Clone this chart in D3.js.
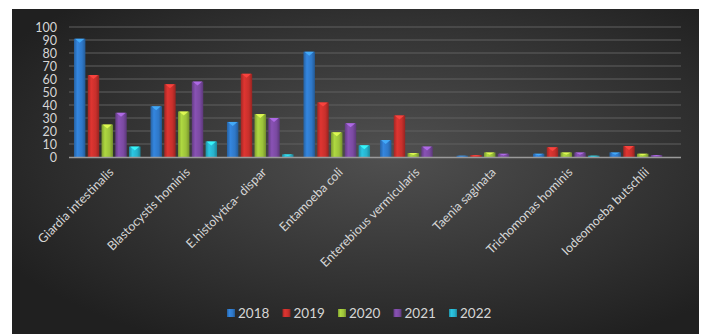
<!DOCTYPE html>
<html>
<head>
<meta charset="utf-8">
<script src="https://cdn.jsdelivr.net/npm/d3@7"></script>
<style>
  body { margin: 0; background: #fff; }
  svg { display: block; }
</style>
</head>
<body>
<div id="container"></div>
<script>
const categories = [
  "Giardia intestinalis", "Blastocystis hominis", "E.histolytica- dispar",
  "Entamoeba coli", "Enterebious vermicularis", "Taenia saginata",
  "Trichomonas hominis", "Iodeomoeba butschlii"
];
const years = ["2018", "2019", "2020", "2021", "2022"];
const values2018 = [91, 39, 27, 81, 13, 1, 2.5, 3.5];
const values2019 = [63, 56, 64, 42, 32, 1.5, 7.5, 8.5];
const values2020 = [25, 35, 33, 19, 3, 3.5, 3.5, 2.5];
const values2021 = [34, 58, 30, 26, 8, 2.5, 3.5, 1.5];
const values2022 = [8, 12, 2, 9, 0, 0, 1, 0];
const yTicks = [0, 10, 20, 30, 40, 50, 60, 70, 80, 90, 100];
const colors = ["#2f78c8", "#c8302c", "#9cc23a", "#7b4aa2", "#27b2cc"];

const seriesValues = [values2018, values2019, values2020, values2021, values2022];

const width = 703, height = 334;
const svg = d3.select("#container").append("svg")
  .attr("width", width)
  .attr("height", height);

const defs = svg.append("defs");

const bg = defs.append("radialGradient")
  .attr("id", "bg")
  .attr("cx", "55%").attr("cy", "45%").attr("r", "65%");
bg.append("stop").attr("offset", "0%").attr("stop-color", "#505050");
bg.append("stop").attr("offset", "100%").attr("stop-color", "#202020");

colors.forEach((c, i) => {
  const g = defs.append("linearGradient")
    .attr("id", "bar" + i)
    .attr("x1", "0%").attr("x2", "100%");
  g.append("stop").attr("offset", "0%").attr("stop-color", d3.color(c).darker(0.6));
  g.append("stop").attr("offset", "30%").attr("stop-color", d3.color(c).brighter(0.3));
  g.append("stop").attr("offset", "70%").attr("stop-color", c);
  g.append("stop").attr("offset", "100%").attr("stop-color", d3.color(c).darker(0.8));
});

// chart background
svg.append("rect")
  .attr("x", 12).attr("y", 9)
  .attr("width", 687).attr("height", 325)
  .attr("fill", "url(#bg)");

const margin = { left: 69, right: 681, top: 27, bottom: 157 };

const x = d3.scaleBand()
  .domain(categories)
  .range([margin.left, margin.right])
  .paddingInner(0.13)
  .paddingOuter(0.065);

const xInner = d3.scaleBand()
  .domain(years)
  .range([0, x.bandwidth()])
  .paddingInner(0.17);

const y = d3.scaleLinear()
  .domain([0, 100])
  .range([margin.bottom, margin.top]);

// gridlines
svg.append("g")
  .selectAll("line")
  .data(yTicks.slice(1))
  .join("line")
  .attr("x1", margin.left)
  .attr("x2", margin.right)
  .attr("y1", d => y(d))
  .attr("y2", d => y(d))
  .attr("stroke", "#606060")
  .attr("stroke-width", 1);

// y axis labels
const yAxis = svg.append("g")
  .attr("transform", `translate(${margin.left - 12},0)`)
  .call(d3.axisLeft(y).tickValues(yTicks).tickSize(0).tickPadding(0));
yAxis.select(".domain").remove();
yAxis.selectAll("text")
  .attr("fill", "#d6d6d6")
  .style("font-family", "Lato, 'Open Sans', sans-serif")
  .style("font-size", "12.5px");

// bars
const groups = svg.append("g")
  .selectAll("g")
  .data(categories)
  .join("g")
  .attr("transform", d => `translate(${x(d)},0)`);

years.forEach((yr, si) => {
  groups.each(function(cat, ci) {
    const v = seriesValues[si][ci];
    if (v <= 0) return;
    const g = d3.select(this);
    const bx = xInner(yr);
    const bw = xInner.bandwidth();
    g.append("rect")
      .attr("x", bx)
      .attr("y", y(v))
      .attr("width", bw)
      .attr("height", y(0) - y(v))
      .attr("fill", `url(#bar${si})`);
    const triH = Math.min(4, (y(0) - y(v)) * 0.5);
    g.append("path")
      .attr("d", `M${bx + 1},${y(v)} L${bx + bw - 1},${y(v)} L${bx + bw / 2},${y(v) + triH} Z`)
      .attr("fill", d3.color(colors[si]).brighter(1.1))
      .attr("opacity", 0.85);
  });
});

// baseline
svg.append("line")
  .attr("x1", margin.left)
  .attr("x2", margin.right)
  .attr("y1", y(0) + 0.5)
  .attr("y2", y(0) + 0.5)
  .attr("stroke", "#9a9a9a")
  .attr("stroke-width", 1.5);

// category labels
const xAxis = svg.append("g")
  .attr("transform", `translate(0,${y(0)})`)
  .call(d3.axisBottom(x).tickSize(0).tickPadding(0));
xAxis.select(".domain").remove();
xAxis.selectAll("text")
  .attr("fill", "#d6d6d6")
  .style("font-family", "Lato, 'Open Sans', sans-serif")
  .style("font-size", "12.5px")
  .attr("text-anchor", "end")
  .attr("dy", "0")
  .attr("transform", "translate(7,16) rotate(-45)");

// legend
const legend = svg.append("g")
  .attr("transform", "translate(227,313)");
const legendStep = 55.5;
years.forEach((yr, i) => {
  const lg = legend.append("g").attr("transform", `translate(${i * legendStep},0)`);
  lg.append("rect")
    .attr("x", 0).attr("y", -4)
    .attr("width", 8).attr("height", 8)
    .attr("fill", `url(#bar${i})`);
  lg.append("text")
    .attr("x", 11)
    .attr("y", 0)
    .attr("dy", "0.35em")
    .attr("fill", "#d6d6d6")
    .style("font-family", "Lato, 'Open Sans', sans-serif")
    .style("font-size", "13.5px")
    .text(yr);
});
</script>
</body>
</html>
